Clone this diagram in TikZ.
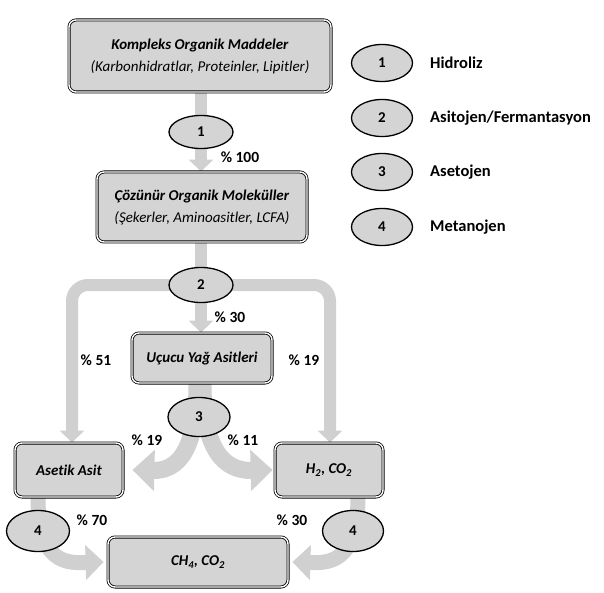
\documentclass[tikz,border=0pt]{standalone}
\usepackage{fontspec}
\setmainfont{Carlito}[Ligatures=NoCommon]
\usetikzlibrary{arrows.meta,shapes.geometric,backgrounds}
\definecolor{arrowgray}{RGB}{208,208,208}
\definecolor{boxgray}{RGB}{212,212,212}
\begin{document}
\begin{tikzpicture}[x=1pt,y=-1pt,
  every node/.style={font=\fontsize{15}{22}\selectfont},
  stage/.style={draw=black,line width=0.8pt,double=white,double distance=1.4pt,
    fill=boxgray,rounded corners=7pt,align=center,inner sep=0pt},
  phase/.style={ellipse,draw=black,line width=1.3pt,fill=boxgray,inner sep=0pt,
    font=\fontsize{15}{18}\selectfont\bfseries},
  pct/.style={font=\fontsize{15.5}{18}\selectfont\bfseries,inner sep=0pt},
  legtext/.style={anchor=west,font=\fontsize{16.5}{18}\selectfont\bfseries,inner sep=0pt},
  flow/.style={draw=arrowgray,line width=12pt,-{Triangle[width=24pt,length=12pt]}},
  bigflow/.style={draw=arrowgray,line width=17pt,-{Triangle[width=40pt,length=22pt]}},
  midflow/.style={draw=arrowgray,line width=15pt,-{Triangle[width=34pt,length=18pt]}}
]
\useasboundingbox (0,0) rectangle (604,593);

% boxes
\node[stage,minimum width=262pt,minimum height=72pt] (b1) at (200,56)
  {\textbf{\textit{Kompleks Organik Maddeler}}\\\textit{(Karbonhidratlar, Proteinler, Lipitler)}};
\node[stage,minimum width=210pt,minimum height=70pt] (b2) at (202,207)
  {\textbf{\textit{Çözünür Organik Moleküller}}\\\textit{(Şekerler, Aminoasitler, LCFA)}};
\node[stage,minimum width=140pt,minimum height=50pt] (b3) at (202,358)
  {\textbf{\textit{Uçucu Yağ Asitleri}}};
\node[stage,minimum width=108pt,minimum height=54pt] (asetik) at (69,470)
  {\textbf{\textit{Asetik Asit}}};
\node[stage,minimum width=108pt,minimum height=54pt] (hco) at (329,470)
  {\textbf{\textit{H\textsubscript{2}, CO\textsubscript{2}}}};
\node[stage,minimum width=180pt,minimum height=50pt] (ch) at (198,562)
  {\textbf{\textit{CH\textsubscript{4}, CO\textsubscript{2}}}};

% phase ellipses
\node[phase,minimum width=64pt,minimum height=33pt] (e1) at (201,132) {1};
\node[phase,minimum width=64pt,minimum height=35pt] (e2) at (201,285) {2};
\node[phase,minimum width=62pt,minimum height=39pt] (e3) at (199,417) {3};
\node[phase,minimum width=63pt,minimum height=41pt] (e4l) at (38,531) {4};
\node[phase,minimum width=61pt,minimum height=41pt] (e4r) at (353,531) {4};

% percentages
\node[pct] (p100) at (240,157) {\% 100};
\node[pct] (p30) at (230,317) {\% 30};
\node[pct] (p51) at (96,360) {\% 51};
\node[pct] (p19a) at (304,360) {\% 19};
\node[pct] (p19b) at (147,440) {\% 19};
\node[pct] (p11) at (243,440) {\% 11};
\node[pct] (p70) at (92,520) {\% 70};
\node[pct] (p30b) at (292,520) {\% 30};

% legend
\node[phase,minimum width=61pt,minimum height=37pt] (l1) at (382,63) {1};
\node[phase,minimum width=61pt,minimum height=37pt] (l2) at (382,118) {2};
\node[phase,minimum width=61pt,minimum height=37pt] (l3) at (382,172) {3};
\node[phase,minimum width=61pt,minimum height=37pt] (l4) at (382,227) {4};
\node[legtext] (t1) at (430,63) {Hidroliz};
\node[legtext] (t2) at (430,118) {Asitojen/Fermantasyon};
\node[legtext] (t3) at (430,172) {Asetojen};
\node[legtext] (t4) at (430,227) {Metanojen};

% arrows behind
\begin{pgfonlayer}{background}
\path[flow] ([xshift=1pt]b1.south) -- ([xshift=-1pt]b2.north);
\path[flow] ([xshift=-1pt]b2.south) -- ([xshift=-1pt]b3.north);
\path[flow,rounded corners=16pt] (e2.center) -- (72,285) -- ([xshift=3pt]asetik.north);
\path[flow,rounded corners=16pt] (e2.center) -- (330,285) -- ([xshift=1pt]hco.north);
\path[bigflow] ([xshift=-5pt]b3.south) .. controls (197,450) and (178,471) .. ([xshift=9pt]asetik.east);
\path[bigflow] ([xshift=1pt]b3.south) .. controls (203,450) and (224,471) .. ([xshift=-2pt]hco.west);
\path[midflow] ([xshift=-31pt]asetik.south) .. controls (38,565) and (68,563) .. ([xshift=-4pt]ch.west);
\path[midflow] ([xshift=29pt]hco.south) .. controls (358,565) and (326,563) .. ([xshift=4pt]ch.east);
\end{pgfonlayer}
\end{tikzpicture}
\end{document}
